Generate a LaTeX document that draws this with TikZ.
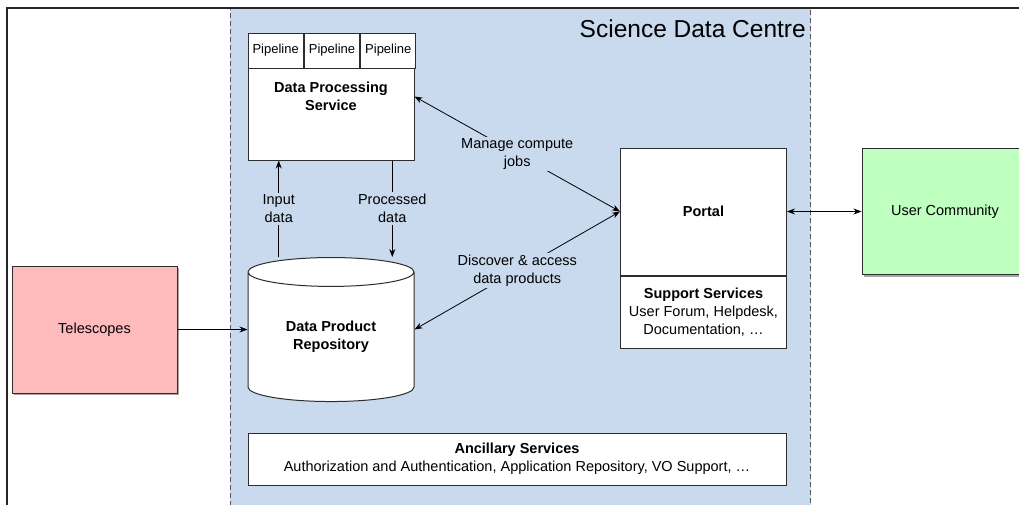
\documentclass[tikz,border=0pt]{standalone}
\usepackage{fontspec}
\setmainfont{Liberation Sans}
\usetikzlibrary{positioning,shapes.geometric,shadows,arrows.meta,calc}

\definecolor{sdcblue}{RGB}{201,217,238}
\definecolor{telred}{RGB}{255,187,187}
\definecolor{usrgreen}{RGB}{191,255,191}
\definecolor{edgegray}{RGB}{45,45,45}

\newcommand{\sdcbody}{\fontsize{14.5}{18}\selectfont}

\begin{document}
\begin{tikzpicture}[
        x=1pt, y=-1pt,
        box/.style={rectangle, draw=edgegray, line width=1pt, fill=white, inner sep=0pt, align=center, font=\sdcbody},
        shadowbox/.style={box, drop shadow={shadow xshift=2pt, shadow yshift=-2pt, fill=black, opacity=0.35}},
        pipecell/.style={box, minimum width=55.33pt, minimum height=35pt, font=\fontsize{13}{15}\selectfont},
        lbl/.style={fill=sdcblue, inner sep=2pt, align=center, font=\sdcbody},
        arr/.style={-{Stealth[length=8pt, width=6pt]}, line width=0.8pt, draw=black},
        dblarr/.style={{Stealth[length=8pt, width=6pt]}-{Stealth[length=8pt, width=6pt]}, line width=0.8pt, draw=black}
    ]
    \useasboundingbox (0,0) rectangle (1019,504);
    \clip (0,0) rectangle (1019,504);

    % Frame and science data centre area
    \draw[sdcblue, fill=sdcblue] (230,8) rectangle (810,530);
    \draw[gray!70!black, line width=0.8pt, dash pattern=on 5pt off 3pt] (230,530) -- (230,8) -- (810,8) -- (810,530);
    \draw[black!85, line width=1.6pt] (7,530) -- (7,8) -- (1030,8);
    \node[anchor=base east, inner sep=0pt, font=\fontsize{24.5}{27}\selectfont] (sdctitle) at (806,37) {Science Data Centre};

    % Outside nodes
    \node[shadowbox, fill=telred, minimum width=165pt, minimum height=127pt] (tel) at (94.5,329.5) {Telescopes};
    \node[shadowbox, fill=usrgreen, minimum width=166pt, minimum height=126pt] (ucom) at (945,211.5) {User Community};

    % Data processing service
    \node[box, minimum width=166pt, minimum height=127pt] (dps) at (331,96.5) {\bfseries Data Processing\\\bfseries Service};
    \node[pipecell, anchor=north west] (pipeA) at (dps.north west) {Pipeline};
    \node[pipecell, right=0pt of pipeA] (pipeB) {Pipeline};
    \node[pipecell, right=0pt of pipeB] (pipeC) {Pipeline};

    % Repository
    \node[box, cylinder, shape border rotate=90, aspect=0.32, minimum width=166pt, minimum height=144pt] (repo) at (331,337) {\bfseries Data Product\\\bfseries Repository};

    % Portal and support services
    \node[box, minimum width=166pt, minimum height=127pt] (portal) at (703.5,211.5) {\bfseries Portal};
    \node[box, minimum width=166pt, minimum height=72pt, below=0pt of portal] (support) {\bfseries Support Services\\User Forum, Helpdesk,\\Documentation, \dots};

    % Ancillary services
    \node[box, minimum width=538pt, minimum height=52pt] (ancil) at (517,459) {\bfseries Ancillary Services\\Authorization and Authentication, Application Repository, VO Support, \dots};

    % Edges
    \coordinate (inx) at ($(dps.south west)!0.187!(dps.south east)$);
    \coordinate (outx) at ($(dps.south west)!0.867!(dps.south east)$);
    \draw[arr] (inx |- repo.north) -- node[lbl] {Input\\data} (inx);
    \draw[arr] (outx) -- node[lbl] {Processed\\data} (outx |- repo.north);
    \draw[dblarr] (dps.east) -- node[lbl] {Manage compute\\jobs} (portal.west);
    \draw[dblarr] (tel -| repo.east) -- node[lbl] {Discover \& access\\data products} (portal.west);
    \draw[arr] (tel) -- (tel -| repo.west);
    \draw[dblarr] (portal) -- (ucom);

\end{tikzpicture}
\end{document}
